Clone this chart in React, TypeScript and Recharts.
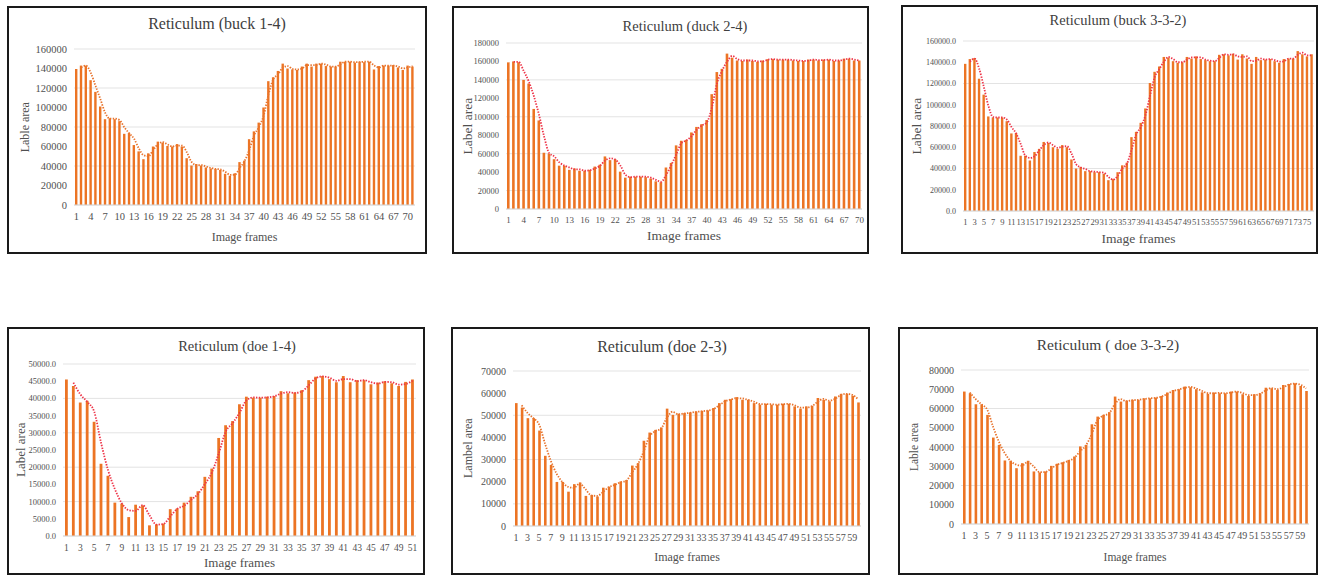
import { Bar, CartesianGrid, ComposedChart, Line, XAxis, YAxis } from "recharts";

// bar heights (label area per image frame) and the dotted moving-average trendline
const buck14Area = [
  139500, 143000, 143000, 128000, 116000, 101000, 88000, 89000, 88000, 86000,
  73000, 74000, 61500, 55000, 47000, 53000, 60000, 65000, 64000, 60500,
  60000, 62500, 60000, 48000, 40500, 42000, 40500, 38500, 37500, 37000,
  36000, 32000, 30000, 32500, 44000, 45500, 67500, 75500, 84500, 100000,
  127000, 131000, 137500, 145000, 140000, 139000, 138500, 142000, 145000, 142000,
  145000, 145000, 142500, 142000, 142000, 147000, 147000, 147000, 146000, 147000,
  146500, 147000, 139000, 142500, 143000, 143000, 143500, 141000, 138500, 143000, 142000,
];
const buck14Trend = [
  null, 141000, 143000, 135500, 122000, 108500, 94500, 88500, 88500, 87000,
  79500, 73500, 68000, 58000, 51000, 50000, 56500, 62500, 64500, 62000,
  60000, 61000, 61000, 54000, 44000, 41000, 41000, 39500, 38000, 37000,
  36500, 34000, 31000, 31000, 38000, 45000, 56500, 71500, 80000, 92000,
  113500, 129000, 134000, 141000, 142500, 139500, 139000, 140000, 143500, 143500,
  143500, 145000, 144000, 142000, 142000, 144500, 147000, 147000, 146500, 146500,
  147000, 147000, 143000, 141000, 143000, 143000, 143000, 142000, 140000, 141000, 142500,
];

const duck24Area = [
  159000, 160000, 159000, 140000, 136000, 108500, 96000, 61000, 60000, 54000,
  47000, 47000, 42500, 44000, 41500, 41500, 42500, 46000, 48000, 57000,
  53000, 54000, 40500, 34000, 35000, 35000, 35000, 34500, 33000, 30000,
  29000, 45000, 50000, 69000, 74000, 75000, 83000, 89000, 92000, 96500,
  124500, 148500, 152000, 168500, 164000, 161000, 160500, 162000, 160500, 159500,
  161000, 162500, 162500, 162000, 162000, 162000, 161000, 160500, 160500, 162000,
  162000, 161000, 162000, 162000, 160500, 161000, 163000, 163000, 161000, 161000,
];
const duck24Trend = [
  null, 159500, 159500, 149500, 138000, 122000, 102000, 78500, 60500, 57000,
  50500, 47000, 45000, 43000, 43000, 41500, 42000, 44000, 47000, 52500,
  55000, 53500, 47000, 37000, 34500, 35000, 35000, 35000, 34000, 31500,
  29500, 37000, 47500, 59500, 71500, 74500, 79000, 86000, 90500, 94000,
  110500, 136500, 150000, 160000, 166000, 162500, 161000, 161000, 161000, 160000,
  160000, 162000, 162500, 162000, 162000, 162000, 161500, 161000, 160500, 161000,
  162000, 161500, 161500, 162000, 161000, 161000, 162000, 163000, 162000, 161000,
];

const buck332Area = [
  138500, 143000, 144000, 124500, 109500, 89000, 88000, 88000, 88000, 84500,
  73000, 73500, 52000, 52000, 47500, 55500, 58500, 65000, 64000, 60000,
  58500, 62000, 60000, 48500, 40000, 41500, 37500, 37500, 36500, 36500,
  35000, 29000, 30000, 36500, 43000, 45500, 69500, 74500, 83000, 96500,
  120500, 131000, 136000, 145000, 144500, 141000, 139500, 140000, 145000, 143500,
  145500, 143000, 142000, 141000, 141000, 147000, 147500, 146500, 148000, 142500,
  147500, 143500, 138500, 145000, 142000, 142500, 143000, 141000, 139500, 143000,
  143500, 143500, 150500, 147500, 145500, 147500,
];
const buck332Trend = [
  null, 140500, 143500, 134000, 117000, 99000, 88500, 88000, 88000, 86000,
  79000, 73000, 63000, 52000, 50000, 51500, 57000, 62000, 64500, 62000,
  59500, 60500, 61000, 54000, 44000, 41000, 39500, 37500, 37000, 36500,
  36000, 32000, 29500, 33000, 40000, 44500, 57500, 72000, 79000, 90000,
  108500, 126000, 133500, 140500, 145000, 143000, 140000, 140000, 142500, 144500,
  144500, 144500, 142500, 141500, 141000, 144000, 147500, 147000, 147500, 145500,
  145000, 145500, 141000, 141500, 143500, 142500, 143000, 142000, 140500, 141000,
  143500, 143500, 147000, 149000, 146500, 146500,
];

const doe14Area = [
  45500, 43600, 38800, 39300, 33200, 21000, 17500, 9700, 9400, 5500,
  9100, 8900, 3100, 3400, 3600, 7800, 8000, 9700, 11400, 13000,
  17200, 19600, 28500, 32200, 33400, 38300, 40500, 40200, 40200, 40500,
  40700, 42100, 41500, 41700, 42400, 45300, 46300, 46500, 45600, 44700,
  46500, 44700, 45300, 45300, 44100, 44600, 45000, 44400, 43600, 44800, 45500,
];
const doe14Trend = [
  null, 44600, 41200, 39000, 36200, 27100, 19200, 13600, 9500, 7500,
  7300, 9000, 6000, 3300, 3500, 5700, 7900, 8800, 10500, 12200,
  15100, 18400, 24000, 30300, 32800, 35800, 39400, 40300, 40200, 40300,
  40600, 41400, 41800, 41600, 42000, 43800, 45800, 46400, 46000, 45100,
  45600, 45600, 45000, 45300, 44700, 44300, 44800, 44700, 44000, 44200, 45100,
];

const doe23Area = [
  55500, 53500, 48700, 48700, 43100, 31700, 27600, 19900, 19900, 15500,
  18900, 19600, 13600, 14000, 13300, 17300, 17800, 19300, 20100, 20800,
  27300, 28400, 38500, 42200, 43400, 44500, 53000, 50200, 50700, 51000,
  51300, 51700, 52000, 52200, 53300, 55500, 57000, 57300, 58200, 57000,
  57000, 55500, 54800, 55200, 54800, 54800, 55200, 55200, 54000, 53000,
  54000, 54300, 57800, 57000, 56300, 58500, 59700, 59700, 58800, 55800,
];
const doe23Trend = [
  null, 54500, 51100, 48700, 45900, 37400, 29600, 23700, 19900, 17700,
  17200, 19200, 16600, 13800, 13600, 15300, 17500, 18500, 19700, 20400,
  24000, 27800, 33400, 40300, 42800, 43900, 48700, 51600, 50400, 50800,
  51100, 51500, 51800, 52100, 52700, 54400, 56200, 57100, 57700, 57600,
  57000, 56200, 55100, 55000, 55000, 54800, 55000, 55200, 54600, 53500,
  53500, 54100, 56000, 57400, 56600, 57400, 59100, 59700, 59200, 57300,
];

const doe332Area = [
  68800, 67900, 62200, 62200, 56700, 44900, 41100, 33000, 32800, 29000,
  31600, 32800, 27300, 26800, 27300, 30200, 31300, 32100, 33300, 35100,
  40300, 41100, 51800, 55800, 56700, 58100, 66200, 63600, 64100, 64500,
  64500, 65300, 65300, 65700, 66500, 68300, 69600, 70000, 71400, 71000,
  70000, 68400, 67600, 68300, 67900, 67900, 68800, 68800, 67400, 66500,
  67400, 67900, 70800, 70500, 69600, 72200, 72700, 73100, 71700, 69100,
];
const doe332Trend = [
  null, 68300, 65000, 62200, 59500, 50800, 43000, 37000, 32900, 30900,
  30300, 32200, 30000, 27000, 27000, 28700, 30700, 31700, 32700, 34200,
  37700, 40700, 46400, 53800, 56200, 57400, 62100, 64900, 63800, 64300,
  64500, 64900, 65300, 65500, 66100, 67400, 69000, 69800, 70700, 71200,
  70500, 69200, 68000, 67900, 68100, 67900, 68300, 68800, 68100, 67000,
  66900, 67600, 69300, 70600, 70000, 70900, 72400, 72900, 72400, 70400,
];

const ticks160k = [0, 20000, 40000, 60000, 80000, 100000, 120000, 140000, 160000];
const ticks180k = [0, 20000, 40000, 60000, 80000, 100000, 120000, 140000, 160000, 180000];
const ticks50k = [0, 5000, 10000, 15000, 20000, 25000, 30000, 35000, 40000, 45000, 50000];
const ticks70k = [0, 10000, 20000, 30000, 40000, 50000, 60000, 70000];
const ticks80k = [0, 10000, 20000, 30000, 40000, 50000, 60000, 70000, 80000];

const SERIF = "Liberation Serif, Tinos, Times New Roman, serif";
const BAR = "#EC7424";
const TREND_ORANGE = "#E8742E";
const TREND_RED = "#EE3448";

const toRows = (area: number[], trend: (number | null)[]) =>
  area.map((v, i) => ({ frame: String(i + 1), area: v, trend: trend[i] }));

type PanelProps = {
  title: string;
  yLabel: string;
  area: number[];
  trend: (number | null)[];
  ticks: number[];
  decimals: boolean;
  interval: number;
  trendColor: string;
  barSize: number;
  // page coordinates
  box: { x: number; y: number; w: number; h: number };
  plot: { l: number; t: number; r: number; b: number };
  titleX: number;
  titleY: number;
  titleSize: number;
  xLabelY: number;
  yLabelX: number;
  labelSize: number;
  yTickSize: number;
  xTickSize: number;
};

function Panel(p: PanelProps) {
  const ix = p.box.x + 2;
  const iy = p.box.y + 2;
  const cw = p.box.w - 4;
  const ch = p.box.h - 4;
  const fmt = (v: number) => (p.decimals ? v.toFixed(1) : String(v));
  const plotCx = (p.plot.l + p.plot.r) / 2;
  const plotCy = (p.plot.t + p.plot.b) / 2;

  return (
    <>
      <div
        style={{
          position: "absolute",
          left: p.box.x,
          top: p.box.y,
          width: p.box.w,
          height: p.box.h,
          boxSizing: "border-box",
          border: "2px solid #1a1a1a",
          background: "#fff",
        }}
      />
      <div style={{ position: "absolute", left: ix, top: iy }}>
        <ComposedChart
          width={cw}
          height={ch}
          data={toRows(p.area, p.trend)}
          margin={{ top: p.plot.t - iy, right: ix + cw - p.plot.r, bottom: 0, left: 0 }}
          barSize={p.barSize}
          style={{ fontFamily: SERIF }}
        >
          <CartesianGrid vertical={false} stroke="#e3e3e3" />
          <XAxis
            dataKey="frame"
            interval={p.interval}
            height={iy + ch - p.plot.b}
            tickLine={false}
            axisLine={{ stroke: "#d9d9d9" }}
            tick={{ fill: "#505050", fontSize: p.xTickSize, fontFamily: SERIF }}
          />
          <YAxis
            width={p.plot.l - ix}
            domain={[p.ticks[0], p.ticks[p.ticks.length - 1]]}
            ticks={p.ticks}
            tickFormatter={fmt}
            tickLine={false}
            axisLine={false}
            tickSize={5}
            tickMargin={2}
            tick={{ fill: "#505050", fontSize: p.yTickSize, fontFamily: SERIF }}
          />
          <Bar dataKey="area" fill={BAR} isAnimationActive={false} />
          <Line
            type="monotone"
            dataKey="trend"
            stroke={p.trendColor}
            strokeWidth={1.8}
            strokeDasharray="1.4 1.4"
            dot={false}
            connectNulls
            isAnimationActive={false}
          />
        </ComposedChart>
      </div>
      <div
        style={{
          position: "absolute",
          left: p.titleX - 150,
          width: 300,
          top: p.titleY - p.titleSize * 0.6,
          textAlign: "center",
          fontFamily: SERIF,
          fontSize: p.titleSize,
          lineHeight: 1.2,
          color: "#404040",
          whiteSpace: "nowrap",
        }}
      >
        {p.title}
      </div>
      <div
        style={{
          position: "absolute",
          left: plotCx - 100,
          width: 200,
          top: p.xLabelY - p.labelSize * 0.6,
          textAlign: "center",
          fontFamily: SERIF,
          fontSize: p.labelSize,
          lineHeight: 1.2,
          color: "#505050",
        }}
      >
        Image frames
      </div>
      <div
        style={{
          position: "absolute",
          left: p.yLabelX - 50,
          width: 100,
          top: plotCy - p.labelSize * 0.6,
          textAlign: "center",
          fontFamily: SERIF,
          fontSize: p.labelSize,
          lineHeight: 1.2,
          color: "#505050",
          transform: "rotate(-90deg)",
          whiteSpace: "nowrap",
        }}
      >
        {p.yLabel}
      </div>
    </>
  );
}

export default function App() {
  return (
    <div
      style={{
        position: "absolute",
        left: 0,
        top: 0,
        width: 1325,
        height: 583,
        background: "#fff",
        overflow: "hidden",
      }}
    >
      <Panel
        title="Reticulum (buck 1-4)"
        yLabel="Lable area"
        area={buck14Area}
        trend={buck14Trend}
        ticks={ticks160k}
        decimals={false}
        interval={2}
        trendColor={TREND_ORANGE}
        barSize={2.4}
        box={{ x: 7, y: 6, w: 420, h: 248 }}
        plot={{ l: 74, t: 49, r: 415, b: 205 }}
        titleX={217}
        titleY={24}
        titleSize={16}
        xLabelY={237}
        yLabelX={25}
        labelSize={12}
        yTickSize={10.5}
        xTickSize={10.5}
      />
      <Panel
        title="Reticulum (duck 2-4)"
        yLabel="Label area"
        area={duck24Area}
        trend={duck24Trend}
        ticks={ticks180k}
        decimals={false}
        interval={2}
        trendColor={TREND_RED}
        barSize={2.6}
        box={{ x: 452, y: 6, w: 417, h: 248 }}
        plot={{ l: 506, t: 43, r: 862, b: 209 }}
        titleX={685}
        titleY={27}
        titleSize={14.5}
        xLabelY={236}
        yLabelX={468}
        labelSize={13.5}
        yTickSize={8.5}
        xTickSize={9}
      />
      <Panel
        title="Reticulum (buck 3-3-2)"
        yLabel="Label area"
        area={buck332Area}
        trend={buck332Trend}
        ticks={ticks160k}
        decimals={true}
        interval={1}
        trendColor={TREND_RED}
        barSize={2.4}
        box={{ x: 901, y: 5, w: 417, h: 249 }}
        plot={{ l: 963, t: 41, r: 1314, b: 211 }}
        titleX={1118}
        titleY={21}
        titleSize={14.5}
        xLabelY={239}
        yLabelX={917}
        labelSize={13.5}
        yTickSize={8}
        xTickSize={8.5}
      />
      <Panel
        title="Reticulum (doe 1-4)"
        yLabel="Label area"
        area={doe14Area}
        trend={doe14Trend}
        ticks={ticks50k}
        decimals={true}
        interval={1}
        trendColor={TREND_RED}
        barSize={2.8}
        box={{ x: 7, y: 327, w: 418, h: 248 }}
        plot={{ l: 63, t: 364, r: 416, b: 536 }}
        titleX={237}
        titleY={347}
        titleSize={14.5}
        xLabelY={563}
        yLabelX={21}
        labelSize={13}
        yTickSize={8.5}
        xTickSize={9.5}
      />
      <Panel
        title="Reticulum (doe 2-3)"
        yLabel="Lambel area"
        area={doe23Area}
        trend={doe23Trend}
        ticks={ticks70k}
        decimals={false}
        interval={1}
        trendColor={TREND_ORANGE}
        barSize={2.6}
        box={{ x: 451, y: 327, w: 419, h: 248 }}
        plot={{ l: 513, t: 371, r: 861, b: 526 }}
        titleX={662}
        titleY={347}
        titleSize={16}
        xLabelY={557}
        yLabelX={468}
        labelSize={12}
        yTickSize={10}
        xTickSize={10}
      />
      <Panel
        title="Reticulum ( doe 3-3-2)"
        yLabel="Lable area"
        area={doe332Area}
        trend={doe332Trend}
        ticks={ticks80k}
        decimals={false}
        interval={1}
        trendColor={TREND_ORANGE}
        barSize={2.6}
        box={{ x: 898, y: 327, w: 420, h: 248 }}
        plot={{ l: 961, t: 370, r: 1309, b: 524 }}
        titleX={1108}
        titleY={345}
        titleSize={15.5}
        xLabelY={558}
        yLabelX={915}
        labelSize={11.5}
        yTickSize={10}
        xTickSize={10}
      />
    </div>
  );
}
